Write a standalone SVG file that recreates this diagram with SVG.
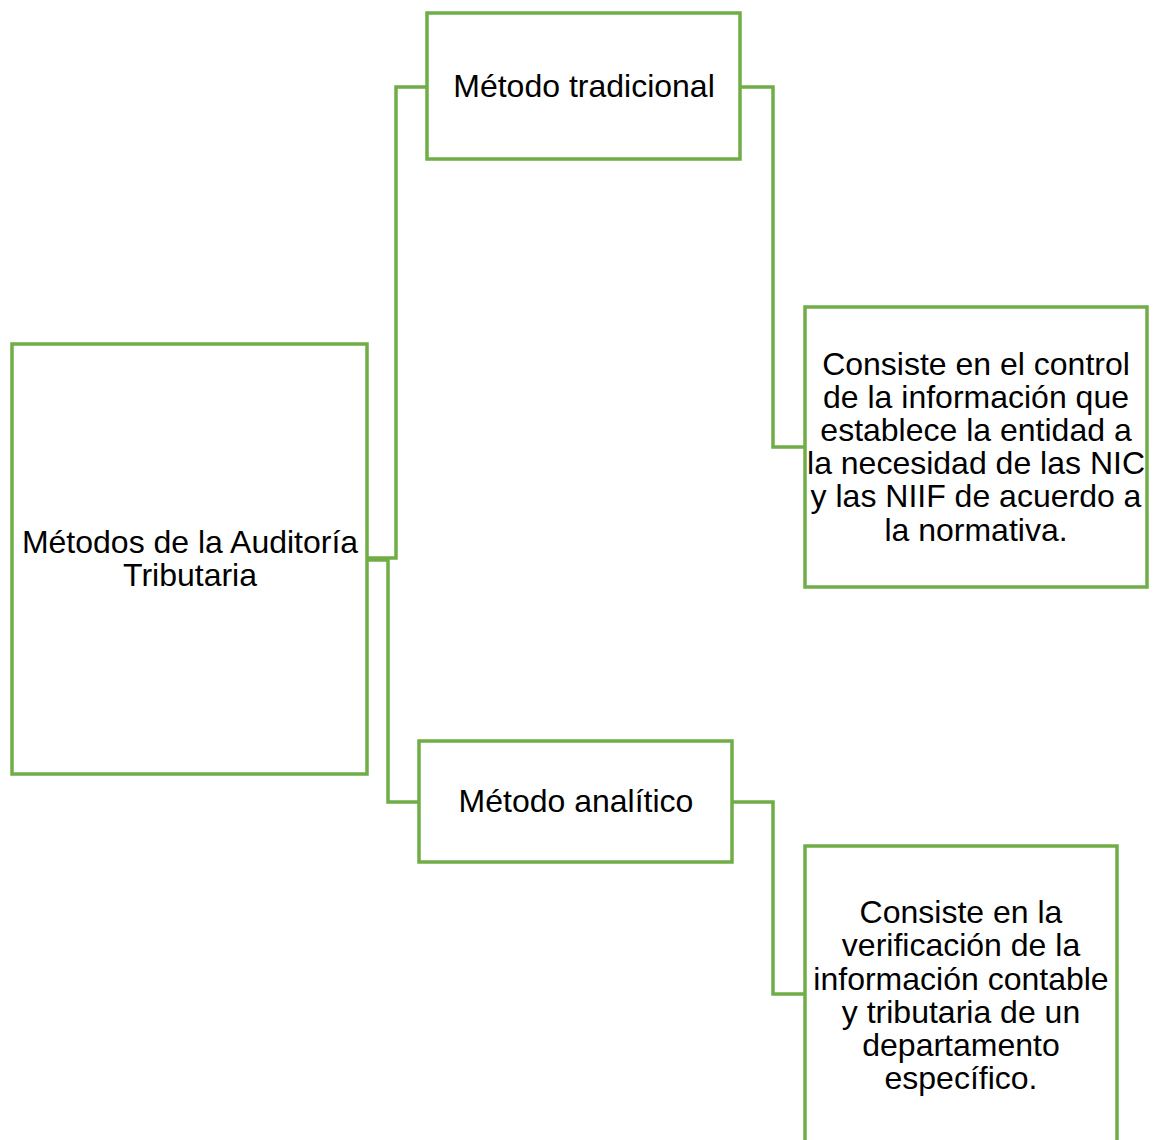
<svg xmlns="http://www.w3.org/2000/svg" width="1156" height="1140" viewBox="0 0 1156 1140">
<style>
.box{fill:#fff;stroke:#70AD47;stroke-width:3.5}
.con{fill:none;stroke:#70AD47;stroke-width:3.5}
text{font-family:"Liberation Sans",Arial,sans-serif;font-size:32px;fill:#000;text-anchor:middle}
</style>
<rect width="1156" height="1140" fill="#fff"/>
<g id="connectors">
<polyline class="con" points="367,558 396,558 396,87 427,87"/>
<polyline class="con" points="367,560 388,560 388,802 419,802"/>
<polyline class="con" points="740,87 773,87 773,447 805,447"/>
<polyline class="con" points="732,802 773,802 773,994 805,994"/>
</g>
<g id="root">
<rect class="box" x="12" y="344" width="355" height="430"/>
<text x="190" y="553">Métodos de la Auditoría</text>
<text x="190" y="586">Tributaria</text>
</g>
<g id="tradicional">
<rect class="box" x="427" y="13" width="313" height="146"/>
<text x="584" y="97">Método tradicional</text>
</g>
<g id="detalle1">
<rect class="box" x="805" y="307" width="342" height="280"/>
<text x="976" y="375">Consiste en el control</text>
<text x="976" y="408">de la información que</text>
<text x="976" y="441">establece la entidad a</text>
<text x="976" y="474">la necesidad de las NIC</text>
<text x="976" y="507">y las NIIF de acuerdo a</text>
<text x="976" y="541">la normativa.</text>
</g>
<g id="analitico">
<rect class="box" x="419" y="741" width="313" height="121"/>
<text x="576" y="812">Método analítico</text>
</g>
<g id="detalle2">
<rect class="box" x="805" y="846" width="312" height="310"/>
<text x="961" y="923">Consiste en la</text>
<text x="961" y="956">verificación de la</text>
<text x="961" y="990">información contable</text>
<text x="961" y="1023">y tributaria de un</text>
<text x="961" y="1056">departamento</text>
<text x="961" y="1089">específico.</text>
</g>
</svg>
